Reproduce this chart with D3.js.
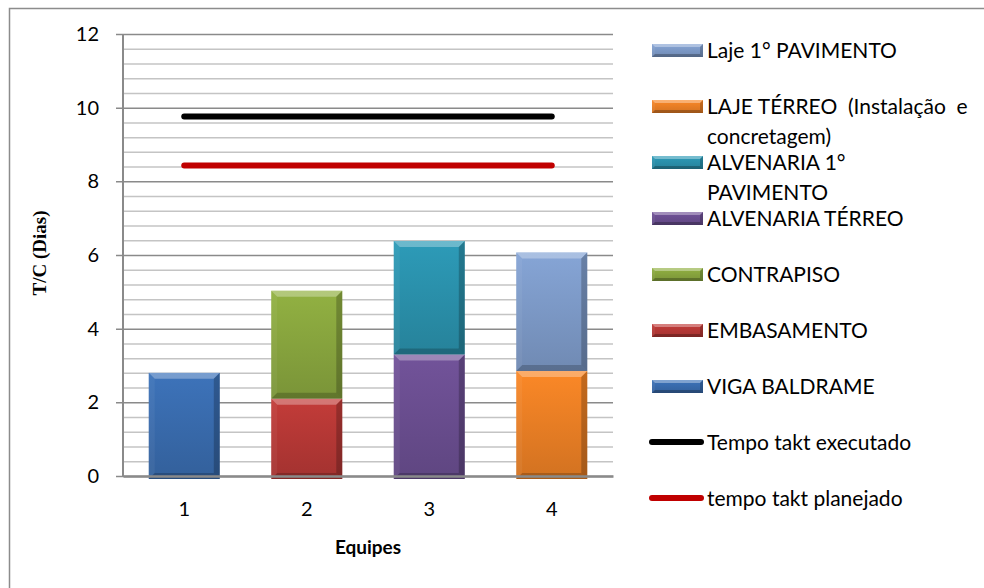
<!DOCTYPE html>
<html>
<head>
<meta charset="utf-8">
<script src="https://cdn.jsdelivr.net/npm/d3@7"></script>
<style>
  html, body { margin: 0; background: #fff; overflow: hidden; }
  svg { display: block; }
  svg text { font-family: Lato, "Open Sans", sans-serif; fill: #000; }
</style>
</head>
<body>
<svg id="chart" width="984" height="588"></svg>
<script>
// categories (Equipes) and stacked series
var categories = ["1", "2", "3", "4"];
var vigaBaldrame    = [2.8, 0, 0, 0];
var embasamento     = [0, 2.1, 0, 0];
var contrapiso      = [0, 2.93, 0, 0];
var alvenariaTerreo = [0, 0, 3.3, 0];
var alvenaria1Pav   = [0, 0, 3.08, 0];
var lajeTerreo      = [0, 0, 0, 2.85];
var laje1Pav        = [0, 0, 0, 3.22];
var taktExecutado   = [9.76, 9.76, 9.76, 9.76];
var taktPlanejado   = [8.43, 8.43, 8.43, 8.43];
var yTicks = [0, 2, 4, 6, 8, 10, 12];

// legend entries, top to bottom, as wrapped in the picture
var legendLabels = [
  ["Laje 1° PAVIMENTO"],
  ["LAJE TÉRREO  (Instalação  e", "concretagem)"],
  ["ALVENARIA 1°", "PAVIMENTO"],
  ["ALVENARIA TÉRREO"],
  ["CONTRAPISO"],
  ["EMBASAMENTO"],
  ["VIGA BALDRAME"],
  ["Tempo takt executado"],
  ["tempo takt planejado"]
];

var colors = ["#3a6db0", "#b93936", "#8aa83f", "#6c4f92", "#2b93ae", "#ee8125", "#7f9ccb"];
var lineColors = ["#000000", "#c00000"];

var svg = d3.select("#chart");
var plotLeft = 123, plotRight = 613, plotTop = 34, plotBottom = 476;

// outer chart border: only the left and top edges are in the shot
svg.append("path")
  .attr("d", "M9.5,588 V8.5 H984")
  .style("fill", "none").style("stroke", "#8c8c8c").style("stroke-width", 1.5);

var x = d3.scaleBand().domain(categories).range([plotLeft, plotRight])
  .paddingInner(0.42).paddingOuter(0.21);
var y = d3.scaleLinear().domain([0, 12]).range([plotBottom, plotTop]);

// minor gridlines
var minor = d3.range(0, 12.001, 0.4).filter(function(v) { return Math.abs(v / 2 - Math.round(v / 2)) > 1e-6; });
svg.append("g")
  .attr("transform", "translate(" + plotRight + ",0)")
  .call(d3.axisLeft(y).tickValues(minor).tickSize(plotRight - plotLeft).tickFormat(""))
  .call(function(g) { g.select(".domain").remove(); })
  .selectAll("line").style("stroke", "#c4c4c4").style("stroke-width", 1.5);

// major gridlines + tick labels
var yAxis = svg.append("g")
  .attr("transform", "translate(" + plotRight + ",0)")
  .call(d3.axisLeft(y).tickValues(yTicks).tickSize(plotRight - plotLeft + 7).tickPadding(17));
yAxis.select(".domain").remove();
yAxis.selectAll("line").style("stroke", "#8a8a8a").style("stroke-width", 1.5);
yAxis.selectAll("text").style("font-size", "20px").style("font-family", "Lato, sans-serif");

// y axis line
svg.append("line")
  .attr("x1", plotLeft).attr("x2", plotLeft).attr("y1", plotTop).attr("y2", plotBottom)
  .style("stroke", "#8a8a8a").style("stroke-width", 2);

// gradients per series
var defs = svg.append("defs");
colors.forEach(function(c, i) {
  var g = defs.append("linearGradient").attr("id", "grad" + i)
    .attr("x1", 0).attr("y1", 0).attr("x2", 0).attr("y2", 1);
  g.append("stop").attr("offset", "0%").attr("stop-color", d3.color(c).brighter(0.15));
  g.append("stop").attr("offset", "100%").attr("stop-color", d3.color(c).darker(0.35));
});

// stacked bars
var table = categories.map(function(c, i) {
  return { cat: c, s0: vigaBaldrame[i], s1: embasamento[i], s2: contrapiso[i], s3: alvenariaTerreo[i],
           s4: alvenaria1Pav[i], s5: lajeTerreo[i], s6: laje1Pav[i] };
});
var keys = ["s0", "s1", "s2", "s3", "s4", "s5", "s6"];
var stacked = d3.stack().keys(keys)(table);

function bevelBar(g, bx, by, bw, bh, i, extra, b, ops) {
  var h = bh + extra;
  g.append("rect").attr("x", bx).attr("y", by).attr("width", bw).attr("height", h)
    .style("fill", "url(#grad" + i + ")");
  var pts = [
    [[bx, by], [bx + bw, by], [bx + bw - b, by + b], [bx + b, by + b]],
    [[bx, by], [bx + b, by + b], [bx + b, by + h - b], [bx, by + h]],
    [[bx + bw, by], [bx + bw - b, by + b], [bx + bw - b, by + h - b], [bx + bw, by + h]],
    [[bx, by + h], [bx + b, by + h - b], [bx + bw - b, by + h - b], [bx + bw, by + h]]
  ];
  var fills = ["#ffffff", "#ffffff", "#000000", "#000000"];
  pts.forEach(function(p, k) {
    g.append("polygon").attr("points", p.map(function(q) { return q.join(","); }).join(" "))
      .style("fill", fills[k]).style("fill-opacity", ops[k]);
  });
}

var barsG = svg.append("g");
stacked.forEach(function(layer, i) {
  layer.forEach(function(d) {
    if (d[1] - d[0] <= 0) return;
    var bx = x(d.data.cat), bw = x.bandwidth();
    var by = y(d[1]), bh = y(d[0]) - y(d[1]);
    bevelBar(barsG, bx, by, bw, bh, i, d[0] === 0 ? 3 : 0, 6, [0.3, 0.05, 0.22, 0.2]);
  });
});

// x axis
var xAxis = svg.append("g")
  .attr("transform", "translate(0," + plotBottom + ")")
  .call(d3.axisBottom(x).tickSize(0).tickPadding(26));
xAxis.select(".domain").style("stroke", "#8a8a8a").style("stroke-width", 2.5);
xAxis.selectAll("text").style("font-size", "20px").style("font-family", "Lato, sans-serif");

// takt lines
var line = d3.line()
  .x(function(d, i) { return x(categories[i]) + x.bandwidth() / 2; })
  .y(function(d) { return y(d); });
[taktExecutado, taktPlanejado].forEach(function(vals, i) {
  svg.append("path").datum(vals)
    .attr("d", line)
    .style("fill", "none").style("stroke", lineColors[i])
    .style("stroke-width", 6).style("stroke-linecap", "round");
});

// axis titles
svg.append("text")
  .attr("x", (plotLeft + plotRight) / 2).attr("y", 554)
  .attr("text-anchor", "middle")
  .style("font-size", "19px").style("font-weight", "bold")
  .text("Equipes");

svg.append("text")
  .attr("transform", "translate(46,253) rotate(-90)")
  .attr("text-anchor", "middle")
  .style("font-family", "'Liberation Serif', 'Times New Roman', serif")
  .style("font-size", "19px").style("font-weight", "bold")
  .text("T/C (Dias)");

// legend
var legendColorIdx = [6, 5, 4, 3, 2, 1, 0];
var leg = svg.append("g");
legendLabels.forEach(function(lines, i) {
  var cy = 50 + i * 56;
  var g = leg.append("g");
  if (i < 7) {
    bevelBar(g, 652, cy - 6, 51, 13, legendColorIdx[i], 0, 3, [0.35, 0.05, 0.2, 0.25]);
  } else {
    g.append("line").attr("x1", 652).attr("x2", 701).attr("y1", cy).attr("y2", cy)
      .style("stroke", lineColors[i - 7]).style("stroke-width", 6).style("stroke-linecap", "round");
  }
  lines.forEach(function(t, k) {
    g.append("text")
      .attr("x", 707).attr("y", cy + k * 30)
      .attr("dy", "0.36em")
      .style("font-size", "21px")
      .style("white-space", "pre")
      .text(t);
  });
});
</script>
</body>
</html>
